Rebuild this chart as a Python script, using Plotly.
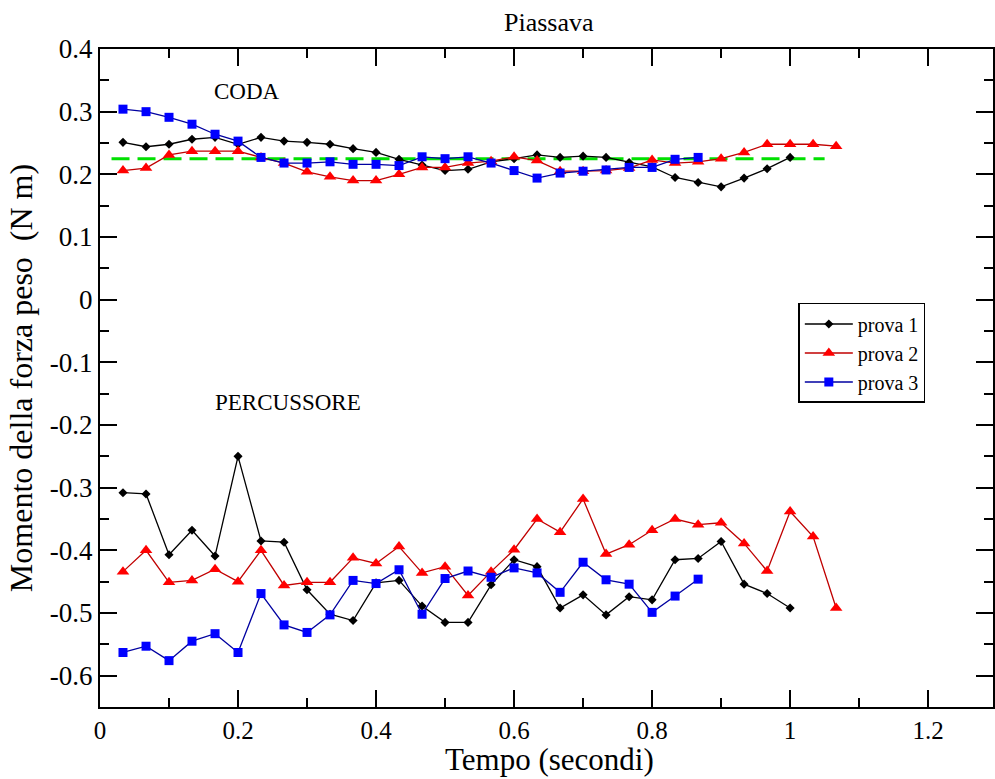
import plotly.graph_objects as go

tempo = [0.0333, 0.0667, 0.1, 0.1333, 0.1667, 0.2, 0.2333, 0.2667, 0.3, 0.3333,
         0.3667, 0.4, 0.4333, 0.4667, 0.5, 0.5333, 0.5667, 0.6, 0.6333, 0.6667,
         0.7, 0.7333, 0.7667, 0.8, 0.8333, 0.8667, 0.9, 0.9333, 0.9667, 1.0,
         1.0333, 1.0667]

coda_1 = [0.251, 0.244, 0.248, 0.256, 0.259, 0.248, 0.259, 0.253, 0.251, 0.248,
          0.241, 0.235, 0.224, 0.215, 0.206, 0.208, 0.220, 0.225, 0.231, 0.227,
          0.229, 0.227, 0.219, 0.212, 0.195, 0.187, 0.180, 0.194, 0.209, 0.227]
coda_2 = [0.206, 0.210, 0.231, 0.237, 0.237, 0.237, 0.227, 0.218, 0.204, 0.196,
          0.190, 0.190, 0.200, 0.211, 0.211, 0.218, 0.221, 0.228, 0.222, 0.205,
          0.205, 0.206, 0.210, 0.223, 0.218, 0.220, 0.225, 0.235, 0.248, 0.248,
          0.248, 0.245]
coda_3 = [0.304, 0.300, 0.291, 0.280, 0.264, 0.253, 0.227, 0.218, 0.218, 0.220,
          0.216, 0.216, 0.214, 0.228, 0.225, 0.228, 0.218, 0.206, 0.194, 0.202,
          0.205, 0.207, 0.211, 0.211, 0.224, 0.227]

perc_1 = [-0.308, -0.310, -0.407, -0.368, -0.409, -0.250, -0.385, -0.387, -0.463, -0.502,
          -0.512, -0.452, -0.448, -0.489, -0.515, -0.515, -0.455, -0.415, -0.426, -0.492,
          -0.471, -0.503, -0.474, -0.479, -0.415, -0.413, -0.386, -0.454, -0.469, -0.492]
perc_2 = [-0.434, -0.400, -0.451, -0.448, -0.430, -0.450, -0.400, -0.456, -0.451, -0.451,
          -0.412, -0.421, -0.394, -0.436, -0.426, -0.472, -0.434, -0.399, -0.350, -0.371,
          -0.318, -0.406, -0.391, -0.368, -0.350, -0.359, -0.356, -0.389, -0.433, -0.338,
          -0.378, -0.492]
perc_3 = [-0.563, -0.553, -0.576, -0.545, -0.533, -0.563, -0.469, -0.519, -0.531, -0.503,
          -0.448, -0.453, -0.431, -0.502, -0.445, -0.433, -0.443, -0.428, -0.436, -0.467,
          -0.419, -0.447, -0.454, -0.499, -0.473, -0.446]

media_x = [0.0167, 1.05]
media_y = [0.225, 0.225]

x_ticks = [0, 0.2, 0.4, 0.6, 0.8, 1.0, 1.2]
x_labels = ["0", "0.2", "0.4", "0.6", "0.8", "1", "1.2"]
y_ticks = [0.4, 0.3, 0.2, 0.1, 0, -0.1, -0.2, -0.3, -0.4, -0.5, -0.6]
y_labels = ["0.4", "0.3", "0.2", "0.1", "0", "-0.1", "-0.2", "-0.3", "-0.4", "-0.5", "-0.6"]

FONT = "Liberation Serif"

series = [
    ("prova 1", coda_1, perc_1, "black", "black", "diamond", 7),
    ("prova 2", coda_2, perc_2, "#c00000", "#ff0000", "triangle-up", 11),
    ("prova 3", coda_3, perc_3, "#0000a0", "#0000ff", "square", 9),
]

fig = go.Figure()
fig.add_trace(go.Scatter(x=media_x, y=media_y, mode="lines",
                         line=dict(color="#00e000", width=3, dash="18px,8px"),
                         showlegend=False, hoverinfo="skip"))

for name, coda, perc, lc, mc, sym, ms in series:
    for i, vals in enumerate([coda, perc]):
        fig.add_trace(go.Scatter(
            x=tempo[:len(vals)], y=vals, mode="lines+markers", name=name,
            legendgroup=name, showlegend=(i == 0),
            line=dict(color=lc, width=1.3),
            marker=dict(symbol=sym, size=ms, color=mc, line=dict(width=0)),
        ))

axis_common = dict(
    showline=True, linecolor="black", linewidth=2, mirror="ticks",
    ticks="inside", ticklen=17, tickwidth=1.5, tickcolor="black",
    showgrid=False, zeroline=False,
)

fig.update_layout(
    width=995, height=779,
    margin=dict(l=100, r=0, t=49, b=72),
    paper_bgcolor="white", plot_bgcolor="white",
    font=dict(family=FONT, color="black"),
    xaxis=dict(range=[0, 1.294], tickvals=x_ticks, ticktext=x_labels,
               tickfont=dict(family=FONT, size=25, color="black"),
               minor=dict(dtick=0.1, tick0=0, ticks="inside", ticklen=9, tickwidth=1.5, tickcolor="black"),
               **axis_common),
    yaxis=dict(range=[-0.65, 0.4], tickvals=y_ticks, ticktext=y_labels,
               tickfont=dict(family=FONT, size=27, color="black"),
               minor=dict(dtick=0.05, tick0=0, ticks="inside", ticklen=9, tickwidth=1.5, tickcolor="black"),
               title=dict(text="Momento della forza peso  (N m)", font=dict(family=FONT, size=32), standoff=8),
               **axis_common),
    legend=dict(x=0.782, y=0.614, xanchor="left", yanchor="top",
                bgcolor="white", bordercolor="black", borderwidth=1.5,
                font=dict(family=FONT, size=20, color="black"),
                tracegroupgap=0, itemwidth=48),
    annotations=[
        dict(text="Piassava", xref="paper", yref="paper", x=0.503, y=1.0, yshift=27,
             xanchor="center", yanchor="middle", showarrow=False,
             font=dict(family=FONT, size=26)),
        dict(text="Tempo (secondi)", xref="paper", yref="paper", x=0.503, y=0.0, yshift=-52,
             xanchor="center", yanchor="middle", showarrow=False,
             font=dict(family=FONT, size=31)),
        dict(text="CODA", xref="paper", yref="paper", x=0.165, y=0.935, xanchor="center",
             yanchor="middle", showarrow=False, font=dict(family=FONT, size=23)),
        dict(text="PERCUSSORE", xref="paper", yref="paper", x=0.211, y=0.463, xanchor="center",
             yanchor="middle", showarrow=False, font=dict(family=FONT, size=23)),
    ],
)

fig.write_html("out.html")
